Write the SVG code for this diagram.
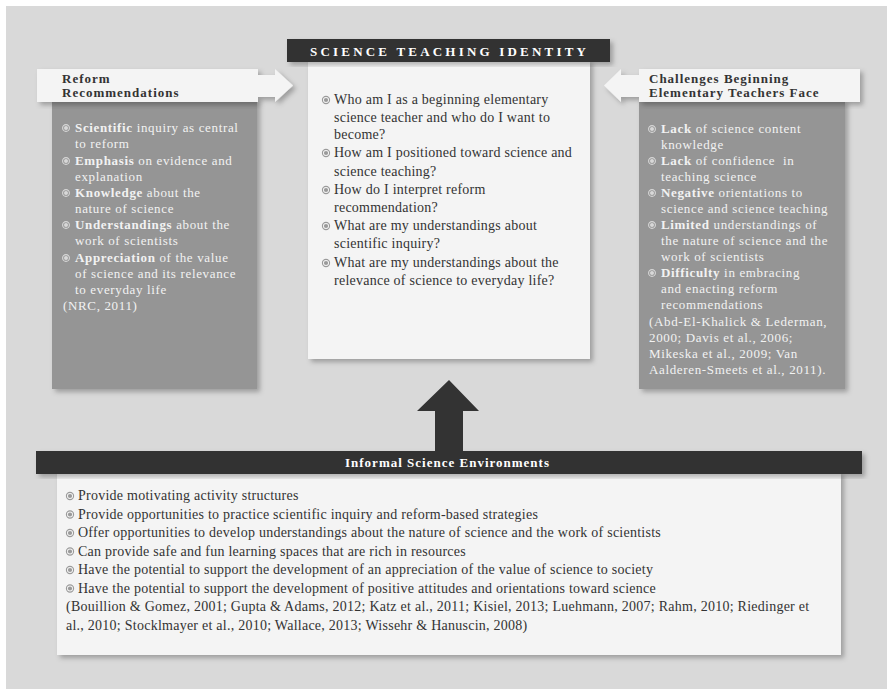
<svg xmlns="http://www.w3.org/2000/svg" width="887" height="689" viewBox="0 0 887 689">
<defs>
<filter id="sh" x="-10%" y="-10%" width="130%" height="130%">
<feDropShadow dx="3" dy="3" stdDeviation="2.5" flood-color="#000" flood-opacity="0.28"/>
</filter>
<style>
text{font-family:"Liberation Serif","Times New Roman",serif;}
.panel{fill:#959595;filter:url(#sh);}
.light{fill:#f4f4f4;filter:url(#sh);}
.dark{fill:#333333;filter:url(#sh);}
.ptxt{font-size:13px;fill:#f2f2f2;letter-spacing:0.65px;white-space:pre;}
.btxt{font-size:13px;font-weight:bold;fill:#333;letter-spacing:1px;}
.ctxt{font-size:14px;fill:#333;letter-spacing:0.25px;}
.htxt{font-size:13px;font-weight:bold;fill:#fff;}
.b{font-weight:bold;}
.pb .o{stroke:#d8d8d8;}
.pb .i{fill:#d8d8d8;}
.lb .o{stroke:#9a9a9a;}
.lb .i{fill:#9a9a9a;}
</style>
<g id="bulP" class="pb"><circle class="o" r="3.4" fill="none" stroke-width="1.1"/><circle class="i" r="2"/></g>
<g id="bulL" class="lb"><circle class="o" r="3.6" fill="none" stroke-width="1.1"/><circle class="i" r="2.1"/></g>
</defs>

<rect x="0" y="0" width="887" height="689" fill="#ffffff"/>
<rect x="6" y="6" width="881" height="683" fill="#d9d9d9"/>

<g id="reform">
<rect class="panel" x="52" y="100" width="205" height="289"/>
<path class="light" d="M37,69 H258 V75 H275 V69 L293,85.5 L275,102 V97 H258 V102 H37 Z"/>
<text class="btxt" x="62" y="83">Reform</text>
<text class="btxt" x="62" y="97">Recommendations</text>
<use href="#bulP" x="66" y="128"/>
<use href="#bulP" x="66" y="161"/>
<use href="#bulP" x="66" y="193"/>
<use href="#bulP" x="66" y="225"/>
<use href="#bulP" x="66" y="258"/>
<text class="ptxt" x="75" y="132"><tspan class="b">Scientific</tspan> inquiry as central</text>
<text class="ptxt" x="75" y="148">to reform</text>
<text class="ptxt" x="75" y="165"><tspan class="b">Emphasis</tspan> on evidence and</text>
<text class="ptxt" x="75" y="181">explanation</text>
<text class="ptxt" x="75" y="197"><tspan class="b">Knowledge</tspan> about the</text>
<text class="ptxt" x="75" y="213">nature of science</text>
<text class="ptxt" x="75" y="229"><tspan class="b">Understandings</tspan> about the</text>
<text class="ptxt" x="75" y="245">work of scientists</text>
<text class="ptxt" x="75" y="262"><tspan class="b">Appreciation</tspan> of the value</text>
<text class="ptxt" x="75" y="278">of science and its relevance</text>
<text class="ptxt" x="75" y="294">to everyday life</text>
<text class="ptxt" x="63" y="310">(NRC, 2011)</text>
</g>

<g id="challenges">
<rect class="panel" x="639" y="100" width="206" height="289"/>
<path class="light" d="M860,69 V102 H639 V97 H621 V102 L604,85.5 L621,69 V75 H639 V69 Z"/>
<text class="btxt" x="649" y="83">Challenges Beginning</text>
<text class="btxt" x="649" y="97">Elementary Teachers Face</text>
<use href="#bulP" x="652" y="129"/>
<use href="#bulP" x="652" y="161"/>
<use href="#bulP" x="652" y="193"/>
<use href="#bulP" x="652" y="225"/>
<use href="#bulP" x="652" y="273"/>
<text class="ptxt" x="661" y="133"><tspan class="b">Lack</tspan> of science content</text>
<text class="ptxt" x="661" y="149">knowledge</text>
<text class="ptxt" x="661" y="165"><tspan class="b">Lack</tspan> of confidence  in</text>
<text class="ptxt" x="661" y="181">teaching science</text>
<text class="ptxt" x="661" y="197"><tspan class="b">Negative</tspan> orientations to</text>
<text class="ptxt" x="661" y="213">science and science teaching</text>
<text class="ptxt" x="661" y="229"><tspan class="b">Limited</tspan> understandings of</text>
<text class="ptxt" x="661" y="245">the nature of science and the</text>
<text class="ptxt" x="661" y="261">work of scientists</text>
<text class="ptxt" x="661" y="277"><tspan class="b">Difficulty</tspan> in embracing</text>
<text class="ptxt" x="661" y="293">and enacting reform</text>
<text class="ptxt" x="661" y="309">recommendations</text>
<text class="ptxt" x="649" y="326">(Abd-El-Khalick &amp; Lederman,</text>
<text class="ptxt" x="649" y="342">2000; Davis et al., 2006;</text>
<text class="ptxt" x="649" y="358">Mikeska et al., 2009; Van</text>
<text class="ptxt" x="649" y="374">Aalderen-Smeets et al., 2011).</text>
</g>

<g id="identity">
<rect class="light" x="308" y="60" width="282" height="299"/>
<rect class="dark" x="287" y="39" width="323" height="23"/>
<text class="htxt" x="310" y="56" style="letter-spacing:3.2px">SCIENCE TEACHING IDENTITY</text>
<use href="#bulL" x="326" y="100"/>
<use href="#bulL" x="326" y="153"/>
<use href="#bulL" x="326" y="190"/>
<use href="#bulL" x="326" y="226"/>
<use href="#bulL" x="326" y="263"/>
<text class="ctxt" x="334" y="104">Who am I as a beginning elementary</text>
<text class="ctxt" x="334" y="122">science teacher and who do I want to</text>
<text class="ctxt" x="334" y="139">become?</text>
<text class="ctxt" x="334" y="157">How am I positioned toward science and</text>
<text class="ctxt" x="334" y="176">science teaching?</text>
<text class="ctxt" x="334" y="194">How do I interpret reform</text>
<text class="ctxt" x="334" y="212">recommendation?</text>
<text class="ctxt" x="334" y="230">What are my understandings about</text>
<text class="ctxt" x="334" y="248">scientific inquiry?</text>
<text class="ctxt" x="334" y="267">What are my understandings about the</text>
<text class="ctxt" x="334" y="285">relevance of science to everyday life?</text>
</g>

<g id="connectors">
<path d="M449,380 L479,411 H463 V452 H435 V411 H417 Z" fill="#333333"/>
</g>

<g id="informal">
<rect class="light" x="57" y="472" width="784" height="183"/>
<rect class="dark" x="36" y="451" width="826" height="23"/>
<text class="htxt" x="447.5" y="467" text-anchor="middle" style="letter-spacing:1px">Informal Science Environments</text>
<use href="#bulL" x="70" y="496"/>
<use href="#bulL" x="70" y="514.5"/>
<use href="#bulL" x="70" y="533"/>
<use href="#bulL" x="70" y="551.5"/>
<use href="#bulL" x="70" y="570"/>
<use href="#bulL" x="70" y="588.5"/>
<text class="ctxt" x="78" y="500">Provide motivating activity structures</text>
<text class="ctxt" x="78" y="518.5">Provide opportunities to practice scientific inquiry and reform-based strategies</text>
<text class="ctxt" x="78" y="537">Offer opportunities to develop understandings about the nature of science and the work of scientists</text>
<text class="ctxt" x="78" y="555.5">Can provide safe and fun learning spaces that are rich in resources</text>
<text class="ctxt" x="78" y="574">Have the potential to support the development of an appreciation of the value of science to society</text>
<text class="ctxt" x="78" y="592.5">Have the potential to support the development of positive attitudes and orientations toward science</text>
<text class="ctxt" x="66" y="611">(Bouillion &amp; Gomez, 2001; Gupta &amp; Adams, 2012; Katz et al., 2011; Kisiel, 2013; Luehmann, 2007; Rahm, 2010; Riedinger et</text>
<text class="ctxt" x="66" y="629.5">al., 2010; Stocklmayer et al., 2010; Wallace, 2013; Wissehr &amp; Hanuscin, 2008)</text>
</g>
</svg>
